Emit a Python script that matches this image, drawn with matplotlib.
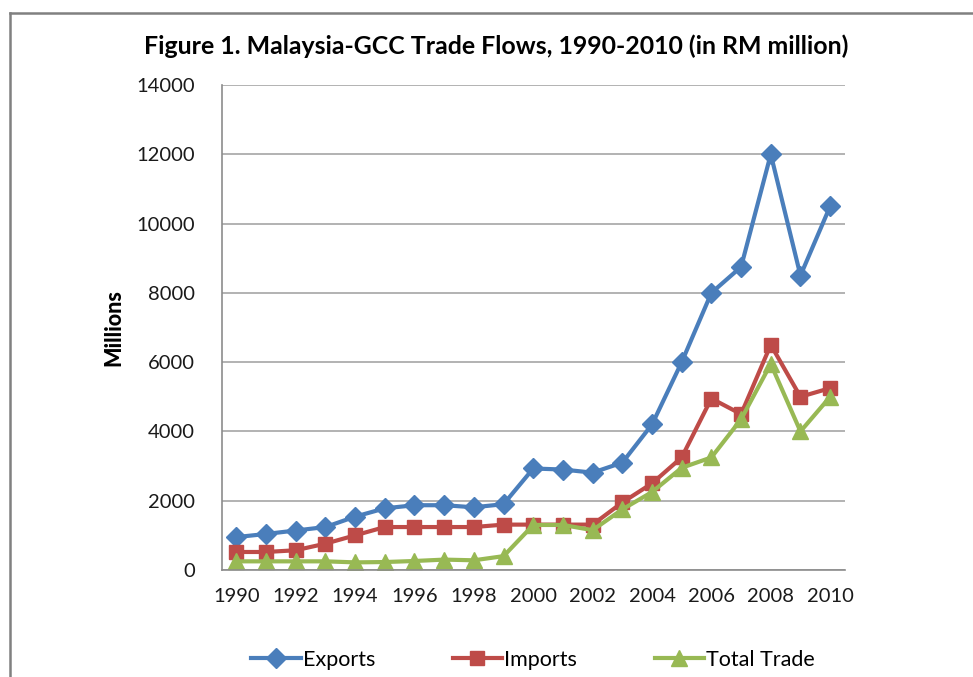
import matplotlib
matplotlib.use("Agg")
import matplotlib.pyplot as plt
from matplotlib.lines import Line2D

plt.rcParams['font.family'] = ['Lato', 'DejaVu Sans']

# data (RM million)
years = list(range(1990, 2011))
exports = [950, 1040, 1140, 1240, 1540, 1780, 1870, 1870, 1810, 1900,
           2930, 2900, 2810, 3100, 4200, 6000, 8000, 8750, 12000, 8500, 10500]
imports = [520, 520, 570, 760, 1000, 1240, 1240, 1240, 1240, 1310,
           1310, 1310, 1310, 1950, 2500, 3250, 4950, 4500, 6500, 5000, 5250]
total_trade = [250, 250, 250, 250, 220, 230, 260, 300, 280, 400,
               1300, 1300, 1150, 1750, 2250, 2950, 3250, 4350, 5950, 4000, 5000]
tick_years = list(range(1990, 2011, 2))
y_ticks = list(range(0, 14001, 2000))

fig = plt.figure(figsize=(9.73, 6.77), dpi=100)
ax = fig.add_axes([221.5 / 973, 107 / 677, (845 - 221.5) / 973, (570 - 85) / 677])

ax.plot(years, exports, color='#4A7EBB', lw=3, marker='D', ms=10, label='Exports')
ax.plot(years, imports, color='#BE4B48', lw=3, marker='s', ms=10, label='Imports')
ax.plot(years, total_trade, color='#98B954', lw=3, marker='^', ms=12, label='Total Trade')

ax.set_xlim(1989.5, 2010.5)
ax.set_ylim(0, 14000)
ax.set_xticks(tick_years)
ax.set_yticks(y_ticks)
ax.tick_params(length=0, labelsize=14.5, colors='#1a1a1a')
ax.tick_params(axis='x', pad=13)
ax.tick_params(axis='y', pad=19)
ax.yaxis.grid(True, color='#A6A6A6', lw=1.2)
ax.set_axisbelow(True)
for side in ['top', 'right']:
    ax.spines[side].set_visible(False)
for side in ['left', 'bottom']:
    ax.spines[side].set_color('#8C8C8C')
    ax.spines[side].set_linewidth(1.2)

ax.set_ylabel('Millions', fontsize=15.5, fontweight='black', labelpad=9)
fig.text(496 / 973, 1 - 46 / 677, 'Figure 1. Malaysia-GCC Trade Flows, 1990-2010 (in RM million)',
         ha='center', va='center', fontsize=17.9, fontweight='bold')

fig.legend(loc='center', bbox_to_anchor=(533 / 973, 1 - 660 / 677), ncol=3, frameon=False,
           fontsize=15.5, handlelength=2.3, columnspacing=3.6, handletextpad=0.1)

# outer chart border (cropped at right and bottom)
bx, by = 9.5 / 973, 1 - 13 / 677
fig.add_artist(Line2D([bx, bx], [0, by], color='#808080', lw=1.8, transform=fig.transFigure))
fig.add_artist(Line2D([bx, 1], [by, by], color='#808080', lw=1.8, transform=fig.transFigure))

fig.savefig('out.png', dpi=100)
